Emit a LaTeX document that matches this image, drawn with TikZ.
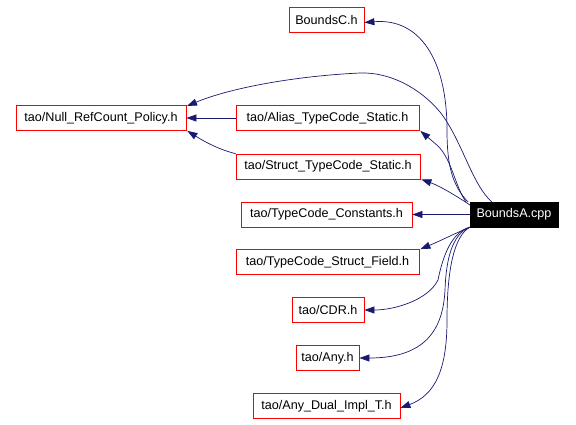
\documentclass[tikz,border=0pt]{standalone}
\usepackage{fontspec}
\setmainfont{Liberation Sans}
\usetikzlibrary{arrows.meta}
\definecolor{edgeblue}{HTML}{191970}
\tikzset{
  filebox/.style={draw=red, line width=0.8pt, minimum height=25pt, inner sep=0pt, font=\fontsize{12.6}{14}\selectfont},
  mainbox/.style={draw=black, fill=black, text=white, minimum height=25pt, inner sep=0pt, font=\fontsize{12.6}{14}\selectfont},
  dep/.style={draw=edgeblue, line width=0.7pt, -{Triangle[length=10pt,width=7pt]}},
}
\begin{document}
\begin{tikzpicture}[x=1pt,y=-1pt]
\useasboundingbox (0,0) rectangle (576,424);
\node[mainbox, minimum width=88pt] (A) at (514,214.5) {BoundsA.cpp};
\node[filebox, minimum width=75pt] (C) at (326.5,19.5) {BoundsC.h};
\node[filebox, minimum width=170pt] (N) at (101,118) {tao/Null\_RefCount\_Policy.h};
\node[filebox, minimum width=183pt] (AL) at (327.5,118) {tao/Alias\_TypeCode\_Static.h};
\node[filebox, minimum width=184pt] (ST) at (328,166.5) {tao/Struct\_TypeCode\_Static.h};
\node[filebox, minimum width=171pt] (TC) at (326.5,214.5) {tao/TypeCode\_Constants.h};
\node[filebox, minimum width=183pt] (SF) at (327.5,262) {tao/TypeCode\_Struct\_Field.h};
\node[filebox, minimum width=72pt] (CDR) at (328,310) {tao/CDR.h};
\node[filebox, minimum width=63pt] (ANY) at (327.5,358) {tao/Any.h};
\node[filebox, minimum width=147pt] (AD) at (326.5,406) {tao/Any\_Dual\_Impl\_T.h};

\coordinate (a1) at (468,202);
\coordinate (a2) at (492,202);
\coordinate (a3) at (466,202);
\coordinate (a4) at (470,205);
\coordinate (nTop) at (187,106);

% BoundsA -> BoundsC.h
\draw[dep] (a1) .. controls (452,185) and (447,165) .. (447,130)
  .. controls (447,60) and (420,18) .. ([yshift=-3pt]C.east);
% BoundsA -> Null_RefCount_Policy.h
\draw[dep] (a2) .. controls (472,185) and (462,140) .. (440,112)
  .. controls (420,88) and (390,72) .. (360,73)
  .. controls (295,76) and (230,88) .. (nTop);
% Alias -> Null
\draw[dep] (AL.west) -- (N.east);
% Struct -> Null
\draw[dep] (ST.north west) .. controls (220,150) and (205,142) .. ([xshift=1pt]N.south east);
% BoundsA -> Alias
\draw[dep] (a3) .. controls (455,186) and (452,160) .. (438,146)
  -- ([xshift=1pt]AL.south east);
% BoundsA -> Struct
\draw[dep] (a4) .. controls (458,197) and (440,186) .. ([xshift=1pt]ST.south east);
% BoundsA -> TypeCode_Constants
\draw[dep] (A.west) -- (TC.east);
% BoundsA -> TypeCode_Struct_Field
\draw[dep] (A.south west) .. controls (458,232) and (440,241) .. ([xshift=1pt]SF.north east);
% BoundsA -> CDR
\draw[dep] (A.south west) .. controls (452,232) and (443,255) .. (438,280)
  .. controls (428,300) and (395,310) .. (CDR.east);
% BoundsA -> Any
\draw[dep] (A.south west) .. controls (452,234) and (446,260) .. (445,290)
  .. controls (443,330) and (425,358) .. (ANY.east);
% BoundsA -> Any_Dual
\draw[dep] (A.south west) .. controls (454,236) and (447,270) .. (447,320)
  .. controls (447,370) and (435,395) .. ([yshift=-2pt]AD.east);
\end{tikzpicture}
\end{document}
